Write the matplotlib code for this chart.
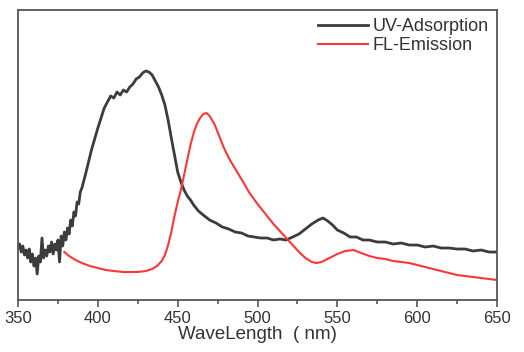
import matplotlib
matplotlib.use('Agg')
import matplotlib.pyplot as plt
from matplotlib.ticker import MultipleLocator

# UV absorption (black), arbitrary units
uv_nm = [350, 351, 352, 353, 354, 355, 356, 357, 358, 359, 360, 361, 362, 363, 364,
         365, 366, 367, 368, 369, 370, 371, 372, 373, 374, 375, 376, 377, 378, 379,
         380, 381, 382, 383, 384, 385, 386, 387, 388, 389, 390, 392, 394, 396, 398,
         400, 402, 404, 406, 408, 410, 412, 414, 416, 418, 420, 422, 424, 426, 428,
         430, 432, 434, 436, 438, 440, 442, 444, 446, 448, 450, 452, 454, 456, 458,
         460, 463, 466, 470, 474, 478, 482, 486, 490, 494, 498, 502, 506, 510, 514,
         518, 522, 526, 530, 534, 538, 541, 544, 547, 550, 554, 558, 562, 566, 570,
         575, 580, 585, 590, 595, 600, 605, 610, 615, 620, 625, 630, 635, 640, 645, 650]
uv_val = [52, 56, 48, 54, 45, 50, 42, 51, 38, 46, 34, 42, 26, 44, 38,
          62, 42, 50, 44, 54, 48, 58, 46, 56, 50, 60, 38, 64, 54, 68,
          60, 72, 66, 80, 74, 88, 84, 98, 96, 108, 112, 124, 137, 150, 161,
          172, 182, 192, 198, 204, 202, 208, 205, 210, 208, 213, 216, 221, 223, 227,
          229, 228, 225, 219, 213, 205, 195, 180, 162, 145, 128, 118, 110, 104, 100,
          95, 89, 85, 80, 77, 73, 71, 68, 67, 64, 63, 62, 62, 60, 61,
          60, 63, 66, 71, 76, 80, 82, 79, 75, 70, 67, 63, 63, 60, 60,
          58, 58, 56, 57, 55, 55, 53, 54, 52, 52, 51, 51, 49, 50, 48, 48]

# fluorescence emission (red)
fl_nm = [379, 382, 386, 390, 395, 400, 405, 410, 416, 420, 425, 430, 434, 437, 440,
         442, 444, 446, 448, 450, 452, 454, 456, 458, 460, 462, 464, 466, 468, 470,
         473, 476, 479, 482, 485, 488, 491, 495, 500, 505, 510, 514, 518, 522, 526,
         530, 534, 537, 540, 545, 550, 555, 560, 565, 570, 575, 580, 585, 590, 595,
         600, 605, 610, 615, 620, 625, 630, 635, 640, 645, 650]
fl_val = [48, 44, 40, 37, 34, 32, 30, 29, 28, 28, 28, 29, 31, 34, 39,
          45, 55, 68, 84, 98, 110, 125, 140, 155, 167, 176, 182, 186, 187, 184,
          176, 164, 152, 142, 134, 126, 118, 107, 96, 86, 76, 69, 62, 55, 48,
          42, 38, 37, 38, 42, 46, 49, 50, 47, 44, 42, 41, 39, 38, 37,
          35, 33, 31, 29, 27, 25, 24, 23, 22, 21, 20]

fig = plt.figure(figsize=(5.24, 3.52), dpi=100)
ax = fig.add_axes([0.0344, 0.1477, 0.9141, 0.8239])

ax.plot(uv_nm, uv_val, color='#3c3c3c', lw=2.0, label='UV-Adsorption')
ax.plot(fl_nm, fl_val, color='#ff3535', lw=1.5, label='FL-Emission')

ax.set_xlim(350, 650)
ax.set_ylim(0, 290)
ax.xaxis.set_major_locator(MultipleLocator(50))
ax.xaxis.set_minor_locator(MultipleLocator(25))
ax.tick_params(axis='x', which='major', direction='out', length=5, width=1.2,
               colors='#555555', labelcolor='#333333', labelsize=12, pad=3)
ax.tick_params(axis='x', which='minor', direction='out', length=3, width=1.2, colors='#555555')
ax.set_yticks([])
for s in ax.spines.values():
    s.set_color('#555555')
    s.set_linewidth(1.3)
for lb in ax.get_xticklabels():
    lb.set_family('Liberation Sans')

ax.set_xlabel('WaveLength  ( nm)', fontsize=13.5, color='#333333',
              family='Liberation Sans', labelpad=0)

leg = ax.legend(loc='upper right', bbox_to_anchor=(1.0, 1.0), frameon=False,
                prop={'family': 'Liberation Sans', 'size': 13}, handlelength=2.8,
                handletextpad=0.25, labelspacing=0.12, borderaxespad=0.05)
for t in leg.get_texts():
    t.set_color('#333333')

fig.savefig('out.png', dpi=100)
